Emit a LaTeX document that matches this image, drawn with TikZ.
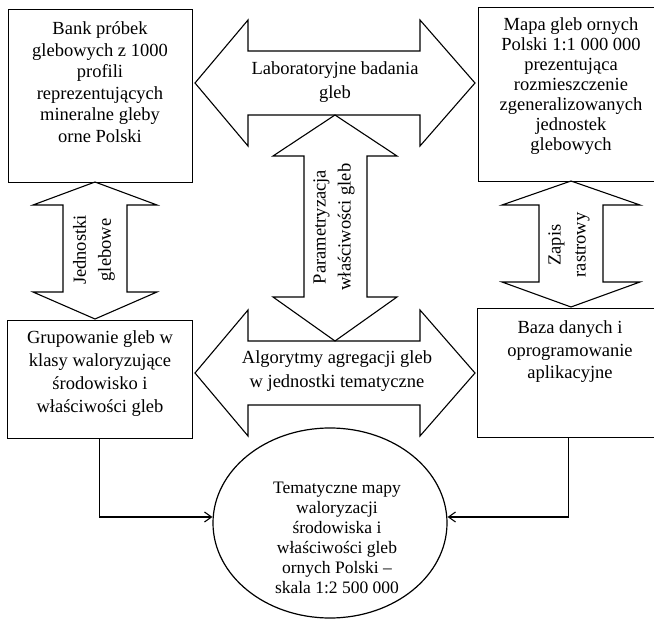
\documentclass[tikz,border=0pt]{standalone}
\usepackage{fontspec}
\setmainfont{Liberation Serif}
\usetikzlibrary{calc,shapes.geometric,arrows.meta}
\begin{document}
\begin{tikzpicture}[x=1pt,y=-1pt,
  box/.style={draw, line width=1.2pt, inner sep=0pt, anchor=north west},
  txt/.style={align=center, inner sep=0pt, font=\fontsize{18.5}{21.5}\selectfont},
  blockarrow/.style={draw, line width=1.1pt, line join=miter},
  conn/.style={line width=1.1pt, -{Straight Barb[length=7pt,width=10pt]}}]
\fill[white] (0,0) rectangle (654,620);
\useasboundingbox (0,0) rectangle (654,620);

% block arrows
\draw[blockarrow] (195,83) -- (248,20) -- (248,51) -- (420,51) -- (420,20) -- (475,83)
  -- (420,146) -- (420,115) -- (248,115) -- (248,146) -- cycle;
\draw[blockarrow] (195,373) -- (248,310) -- (248,341) -- (420,341) -- (420,310) -- (475,373)
  -- (420,436) -- (420,405) -- (248,405) -- (248,436) -- cycle;
\draw[blockarrow] (335,115) -- (397,156) -- (367,156) -- (367,297) -- (397,297) -- (335,341)
  -- (273,297) -- (304,297) -- (304,156) -- (273,156) -- cycle;
\draw[blockarrow] (95,182) -- (157,205) -- (127,205) -- (127,292) -- (157,292) -- (95,319)
  -- (33,292) -- (63,292) -- (63,205) -- (33,205) -- cycle;
\draw[blockarrow] (571,181) -- (640,205) -- (603,205) -- (603,282) -- (640,282) -- (571,307)
  -- (502,282) -- (539,282) -- (539,205) -- (502,205) -- cycle;

% boxes
\node[box, minimum width=184pt, minimum height=173pt] (bank) at (8,9) {};
\node[box, minimum width=187pt, minimum height=174pt] (mapa) at (478,7) {};
\node[box, minimum width=185pt, minimum height=118pt] (grup) at (7,320) {};
\node[box, minimum width=188pt, minimum height=129pt] (baza) at (477,308) {};
\node[draw, ellipse, line width=1.2pt, inner sep=0pt, minimum width=234pt, minimum height=190pt] (ell) at (330,523) {};

% texts
\node[txt] (tbank) at (100,82) {Bank próbek\\glebowych z 1000\\profili\\reprezentujących\\mineralne gleby\\orne Polski};
\node[txt, font=\fontsize{18.5}{20}\selectfont] (tmapa) at (571,86) {Mapa gleb ornych\\Polski 1:1 000 000\\prezentująca\\rozmieszczenie\\zgeneralizowanych\\jednostek\\glebowych};
\node[txt, font=\fontsize{18.5}{23}\selectfont] (tgrup) at (100,374) {Grupowanie gleb w\\klasy waloryzujące\\środowisko i\\właściwości gleb};
\node[txt, font=\fontsize{18.5}{22.5}\selectfont] (tbaza) at (570,352) {Baza danych i\\oprogramowanie\\aplikacyjne};
\node[txt, font=\fontsize{17.5}{20}\selectfont] (tell) at (337,538) {Tematyczne mapy\\waloryzacji\\środowiska i\\właściwości gleb\\ornych Polski –\\skala 1:2 500 000};
\node[txt, font=\fontsize{18.5}{24}\selectfont] (tlab) at (335,82) {Laboratoryjne badania\\gleb};
\node[txt, font=\fontsize{18.5}{24}\selectfont] (talg) at (337,371) {Algorytmy agregacji gleb\\w jednostki tematyczne};
\node[txt, font=\fontsize{18.5}{25}\selectfont, rotate=90] (tpar) at (334,227) {Parametryzacja\\właściwości gleb};
\node[txt, font=\fontsize{18.5}{25}\selectfont, rotate=90] (tjed) at (94,250) {Jednostki\\glebowe};
\node[txt, font=\fontsize{18.5}{25}\selectfont, rotate=90] (tzap) at (569,245) {Zapis\\rastrowy};

% connectors
\draw[conn] ($(grup.south)+(-1,0)$) |- ([yshift=6pt]ell.west);
\draw[conn] ($(baza.south)+(-3,0)$) |- ([yshift=6pt]ell.east);
\end{tikzpicture}
\end{document}
